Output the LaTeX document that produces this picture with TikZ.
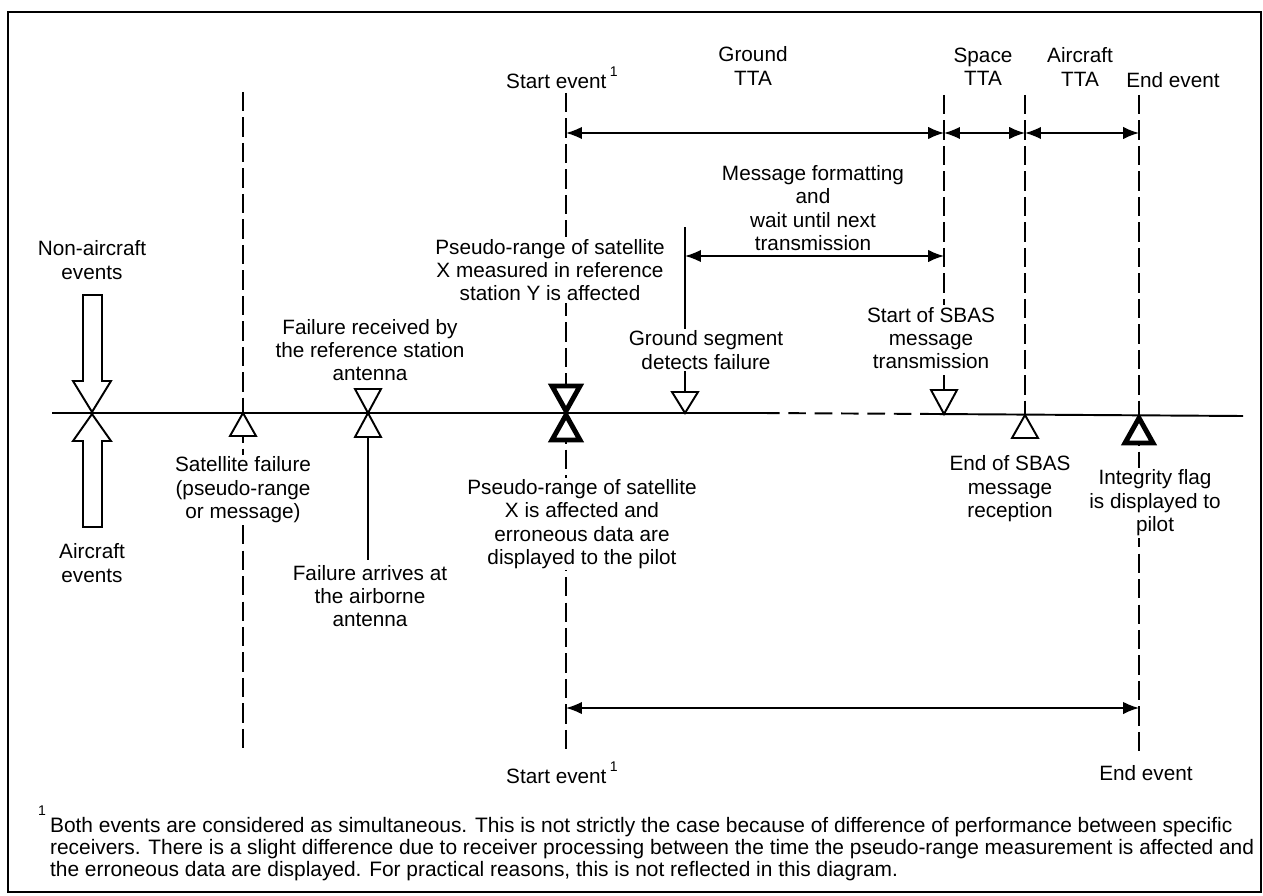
\documentclass[tikz,border=0pt]{standalone}
\usepackage{fontspec}
\setmainfont{Liberation Sans}
\usetikzlibrary{arrows.meta,positioning}

\begin{document}
\begin{tikzpicture}[x=0.02cm,y=-0.02cm,
  every node/.style={font=\fontsize{11.8pt}{13.3pt}\selectfont, align=center, inner sep=1pt},
  lbl/.style={fill=white},
  evline/.style={line width=1.4pt, dash pattern=on 11pt off 3.5pt},
  solidline/.style={line width=1.1pt},
  tri/.style={line width=1.1pt, fill=white, line join=miter},
  bigtri/.style={line width=2.8pt, fill=white, line join=miter},
  tta/.style={line width=0.9pt, {Latex[length=9pt,width=7pt]}-{Latex[length=9pt,width=7pt]}},
  hollow/.style={line width=1.1pt, fill=white, line join=miter}]
\useasboundingbox (0,0) rectangle (1263,895);
\draw[line width=1.2pt] (8,12) rectangle (1261,892);

\coordinate (air) at (92,413);
\coordinate (sat) at (243,413);
\coordinate (ref) at (368,413);
\coordinate (start) at (566,413);
\coordinate (gnd) at (685,413);
\coordinate (sbas) at (944,414);
\coordinate (endsbas) at (1025,415);
\coordinate (endev) at (1139,416);
\coordinate (ttaY) at (0,133);
\coordinate (msgY) at (0,256);
\coordinate (botY) at (0,708);

\draw[solidline] (52,413) -- (762,413);
\draw[solidline, dash pattern=on 10pt off 5pt] (762,413) -- (935,414);
\draw[solidline] (935,414) -- (1243,416);

\draw[evline] (243,92) -- (243,752);
\draw[evline] (566,93) -- (566,755);
\draw[evline] (944,95) -- (944,390);
\draw[evline] (1025,95) -- (1025,415);
\draw[evline] (1139,95) -- (1139,755);
\draw[solidline] (685,227) -- (685,392);
\draw[solidline] (368,437) -- (368,560);

\draw[hollow] (83,295) -- (102,295) -- (102,381) -- (111,381) -- (92,412) -- (73,381) -- (83,381) -- cycle;
\draw[hollow] (83,527) -- (102,527) -- (102,441) -- (111,441) -- (92,414) -- (73,441) -- (83,441) -- cycle;

\draw[tri] (sat) -- ++(-13,23) -- ++(26,0) -- cycle;
\draw[tri] (ref) -- ++(-13,-24) -- ++(26,0) -- cycle;
\draw[tri] (ref) -- ++(-13,24) -- ++(26,0) -- cycle;
\draw[tri] (gnd) -- ++(-13,-21) -- ++(26,0) -- cycle;
\draw[tri] (sbas) -- ++(-13,-24) -- ++(26,0) -- cycle;
\draw[tri] (endsbas) -- ++(-13,23) -- ++(26,0) -- cycle;
\draw[bigtri] ([yshift=0.04cm]start) -- ++(-14,-25) -- ++(28,0) -- cycle;
\draw[bigtri] ([yshift=-0.04cm]start) -- ++(-14,25) -- ++(28,0) -- cycle;
\draw[bigtri] ([yshift=-0.04cm]endev) -- ++(-14,25) -- ++(28,0) -- cycle;

\draw[tta] (start |- ttaY) -- (sbas |- ttaY);
\draw[tta] (sbas |- ttaY) -- (endsbas |- ttaY);
\draw[tta] (endsbas |- ttaY) -- (endev |- ttaY);
\draw[tta] (gnd |- msgY) -- (sbas |- msgY);
\draw[tta] (start |- botY) -- (endev |- botY);

\node (nonair) at (92,260) {Non-aircraft\\events};
\node (airev) at (92,563) {Aircraft\\events};
\node[lbl] (satlbl) at (243,490) {Satellite failure\\(pseudo-range\\or message)};
\node (reclbl) at (370,350) {Failure received by\\the reference station\\antenna};
\node[lbl] (arrlbl) at (370,596) {Failure arrives at\\the airborne\\antenna};
\node (starttop) at (562,78) {Start event\,\raisebox{1.1ex}{\fontsize{8pt}{9pt}\selectfont 1}};
\node[lbl] (measlbl) at (550,270) {Pseudo-range of satellite\\X measured in reference\\station Y is affected};
\node[lbl] (afflbl) at (582,524) {Pseudo-range of satellite\\X is affected and\\erroneous data are\\displayed to the pilot};
\node[lbl] (startbot) at (562,773) {Start event\,\raisebox{1.1ex}{\fontsize{8pt}{9pt}\selectfont 1}};
\node (gtta) at (753,66) {Ground\\TTA};
\node (stta) at (983,67) {Space\\TTA};
\node (atta) at (1080,67) {Aircraft\\TTA};
\node (endtop) at (1173,80) {End event};
\node (endbot) at (1146,773) {End event};
\node (msglbl) at (813,208) {Message formatting\\and\\wait until next\\transmission};
\node[lbl] (detlbl) at (706,350) {Ground segment\\detects failure};
\node[lbl] (txlbl) at (931,338) {Start of SBAS\\message\\transmission};
\node (rxlbl) at (1010,489) {End of SBAS\\message\\reception};
\node[lbl] (flaglbl) at (1155,503) {Integrity flag\\is displayed to\\pilot};

\node (fnmark) at (42,811) {\fontsize{8pt}{9pt}\selectfont 1};
\node[anchor=west, align=left, font=\fontsize{11.9pt}{12.5pt}\selectfont] (fntext) at (48,849) {Both events are considered as simultaneous. This is not strictly the case because of difference of performance between specific\\receivers. There is a slight difference due to receiver processing between the time the pseudo-range measurement is affected and\\the erroneous data are displayed. For practical reasons, this is not reflected in this diagram.};
\end{tikzpicture}
\end{document}
